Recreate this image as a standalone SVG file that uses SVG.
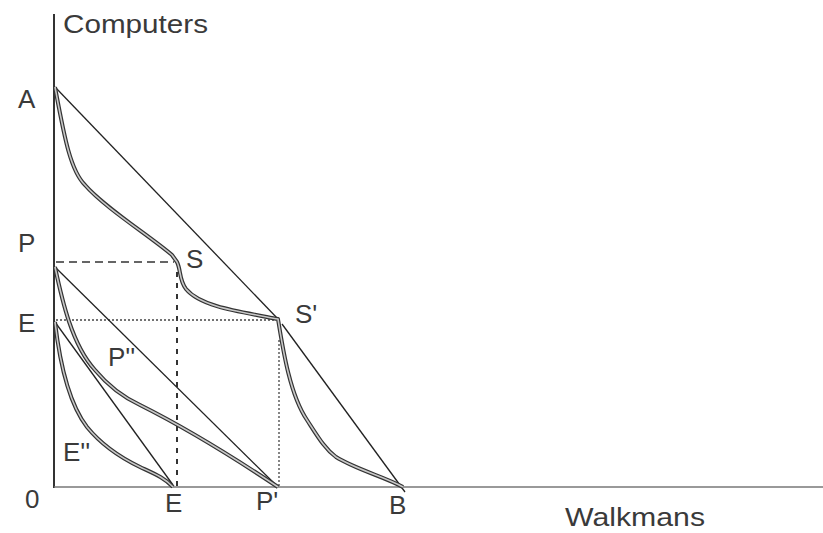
<svg xmlns="http://www.w3.org/2000/svg" width="823" height="533" viewBox="0 0 823 533">
<style>
text{font-family:"Liberation Sans",Arial,sans-serif;font-size:26px;fill:#3a3a3a;}
.ln{fill:none;stroke:#222;stroke-width:1.3;}
.cv{fill:none;stroke:#333;stroke-width:4;stroke-linejoin:round;}
.cvi{fill:none;stroke:#c8c8c8;stroke-width:1.6;stroke-linejoin:round;}
.dash{fill:none;stroke:#333;stroke-width:1.3;stroke-dasharray:8 5;}
.vdash{fill:none;stroke:#333;stroke-width:2;stroke-dasharray:5 6;}
.dot{fill:none;stroke:#444;stroke-width:1.3;stroke-dasharray:2 2;}
</style>
<rect width="823" height="533" fill="#fff"/>
<g id="axes">
<line x1="54" y1="14" x2="54" y2="488" stroke="#333" stroke-width="2"/>
<line x1="54" y1="487" x2="823" y2="487" stroke="#777" stroke-width="1.6"/>
</g>
<g id="guides">
<line class="dash" x1="56" y1="262" x2="174" y2="262"/>
<line class="vdash" x1="177" y1="272" x2="177" y2="487"/>
<line class="dot" x1="56" y1="320" x2="276" y2="320"/>
<line class="dot" x1="279" y1="340" x2="279" y2="487"/>
</g>
<g id="connectors">
<polyline class="ln" points="55,87 278,319"/>
<polyline class="ln" points="282,324 405,492"/>
<polyline class="ln" points="55,267 278,487"/>
<polyline class="ln" points="55,322 173,485"/>
</g>
<g id="curves">
<path id="curve1" class="cv" d="M55,87 C64,135 70,170 85,185 C105,208 150,236 172,255 L177,262 C181,270 179,280 186,289 C200,306 235,311 278,319 C283,350 290,395 307,420 C318,437 325,449 336,457 C355,469 385,477 403,487"/>
<path class="cvi" d="M55,87 C64,135 70,170 85,185 C105,208 150,236 172,255 L177,262 C181,270 179,280 186,289 C200,306 235,311 278,319 C283,350 290,395 307,420 C318,437 325,449 336,457 C355,469 385,477 403,487"/>
<path id="curve2" class="cv" d="M55,267 C62,300 72,345 95,370 C110,388 125,398 140,405 C180,425 230,455 278,487"/>
<path class="cvi" d="M55,267 C62,300 72,345 95,370 C110,388 125,398 140,405 C180,425 230,455 278,487"/>
<path id="curve3" class="cv" d="M55,322 C60,365 70,405 87,427 C100,443 115,455 140,467 C155,474 165,478 173,487"/>
<path class="cvi" d="M55,322 C60,365 70,405 87,427 C100,443 115,455 140,467 C155,474 165,478 173,487"/>
</g>
<g id="labels">
<text x="63" y="33" textLength="145" lengthAdjust="spacingAndGlyphs">Computers</text>
<text x="18" y="108">A</text>
<text x="18" y="252">P</text>
<text x="18" y="332">E</text>
<text x="186" y="268">S</text>
<text x="295" y="323">S'</text>
<text x="108" y="366">P''</text>
<text x="63" y="461">E''</text>
<text x="25" y="508">0</text>
<text x="165" y="512">E</text>
<text x="256" y="510">P'</text>
<text x="389" y="514">B</text>
<text x="565" y="526" textLength="140" lengthAdjust="spacingAndGlyphs">Walkmans</text>
</g>
</svg>
